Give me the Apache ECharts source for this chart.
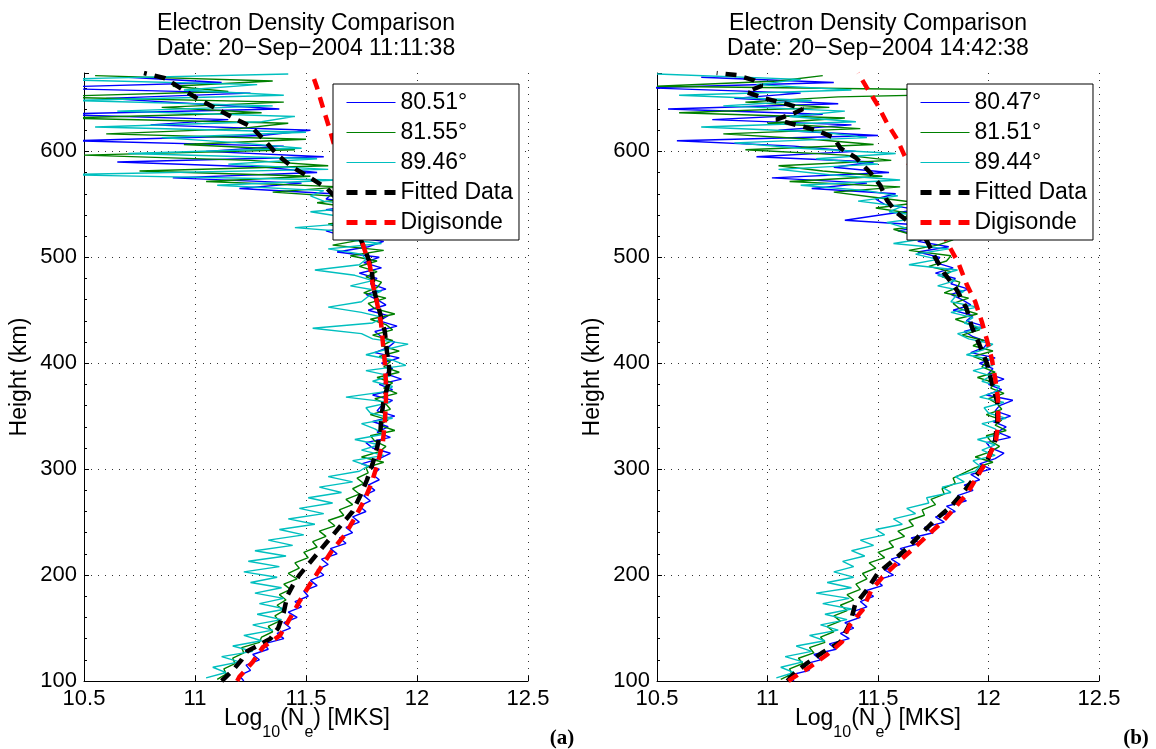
<!DOCTYPE html>
<html><head><meta charset="utf-8">
<script src="https://cdn.jsdelivr.net/npm/echarts/dist/echarts.min.js"></script>
<style>html,body{margin:0;padding:0;background:#fff}#c{width:1156px;height:749px}</style>
</head><body><div id="c"></div>
<script>
// ---------- DATA ----------
// range gates (km) of the three beams
const hBlue = [
100,105,110,115,120,125,130,135,140,145,150,155,160,165,170,175,180,185,190,195,
200,205,210,215,220,225,230,235,240,245,250,255,260,265,270,275,280,285,290,295,
300,305,310,315,320,325,330,335,340,345,350,355,360,365,370,375,380,385,390,395,
400,405,410,415,420,425,430,435,440,445,450,455,460,465,470,475,480,485,490,495,
500,505,510,515,520,525,530,535,540,545,550,555,560,565,570,575,580,585,590,595,
600,605,610,615,620,625,630,635,640,645,650,655,660,665,670];
const hGreen = [
101.5,106.5,111.5,116.5,121.5,126.5,131.5,136.5,141.5,146.5,151.5,156.5,161.5,166.5,171.5,176.5,181.5,186.5,191.5,196.5,
201.5,206.5,211.5,216.5,221.5,226.5,231.5,236.5,241.5,246.5,251.5,256.5,261.5,266.5,271.5,276.5,281.5,286.5,291.5,296.5,
301.5,306.5,311.5,316.5,321.5,326.5,331.5,336.5,341.5,346.5,351.5,356.5,361.5,366.5,371.5,376.5,381.5,386.5,391.5,396.5,
401.5,406.5,411.5,416.5,421.5,426.5,431.5,436.5,441.5,446.5,451.5,456.5,461.5,466.5,471.5,476.5,481.5,486.5,491.5,496.5,
501.5,506.5,511.5,516.5,521.5,526.5,531.5,536.5,541.5,546.5,551.5,556.5,561.5,566.5,571.5,576.5,581.5,586.5,591.5,596.5,
601.5,606.5,611.5,616.5,621.5,626.5,631.5,636.5,641.5,646.5,651.5,656.5,661.5,666.5,671.5];
const hCyan = [
103,108,113,118,123,128,133,138,143,148,153,158,163,168,173,178,183,188,193,198,
203,208,213,218,223,228,233,238,243,248,253,258,263,268,273,278,283,288,293,298,
303,308,313,318,323,328,333,338,343,348,353,358,363,368,373,378,383,388,393,398,
403,408,413,418,423,428,433,438,443,448,453,458,463,468,473,478,483,488,493,498,
503,508,513,518,523,528,533,538,543,548,553,558,563,568,573,578,583,588,593,598,
603,608,613,618,623,628,633,638,643,648,653,658,663,668,673];

// Panel (a): log10 Ne per beam
const blueA = [
11.22,11.20,11.25,11.23,11.29,11.26,11.33,11.31,11.40,11.37,11.43,11.40,11.46,11.42,11.48,11.45,11.51,11.49,11.55,11.52,
11.58,11.55,11.60,11.57,11.64,11.61,11.68,11.65,11.71,11.68,11.74,11.71,11.77,11.74,11.79,11.76,11.81,11.78,11.83,11.80,
11.83,11.75,11.83,11.88,11.80,11.77,11.88,11.82,11.87,11.80,11.90,11.82,11.84,11.89,11.80,11.89,11.83,11.93,11.86,11.89,
11.84,11.92,11.81,11.87,11.90,11.84,11.81,11.91,11.83,11.87,11.78,11.86,11.82,11.77,11.86,11.79,11.82,11.74,11.84,11.76,
11.83,11.64,11.78,11.85,11.67,11.59,11.80,11.67,11.74,11.59,11.78,11.59,11.62,11.20,11.48,10.90,11.55,11.32,10.65,11.58,
11.05,11.40,10.45,11.30,11.52,10.80,11.15,10.35,11.38,11.00,10.60,11.25,10.25,11.12,10.70];
const greenA = [
11.10,11.14,11.13,11.18,11.17,11.22,11.21,11.29,11.30,11.35,11.33,11.38,11.36,11.40,11.37,11.41,11.38,11.43,11.40,11.46,
11.42,11.47,11.45,11.51,11.49,11.55,11.53,11.59,11.56,11.63,11.60,11.67,11.65,11.71,11.68,11.74,11.71,11.76,11.73,11.78,
11.77,11.85,11.75,11.83,11.86,11.81,11.79,11.90,11.83,11.87,11.79,11.88,11.86,11.81,11.91,11.85,11.89,11.82,11.92,11.85,
11.88,11.83,11.92,11.84,11.89,11.80,11.89,11.86,11.79,11.90,11.81,11.78,11.86,11.76,11.82,11.84,11.77,11.82,11.74,11.82,
11.70,11.85,11.62,11.75,11.80,11.67,11.60,11.81,11.67,11.73,11.55,11.72,11.35,11.66,11.05,11.52,10.75,11.60,11.25,10.50,
11.45,10.95,11.50,10.60,11.20,11.42,10.40,11.30,10.85,11.40,10.30,11.15,10.90,11.35,10.55];
const cyanA = [
11.05,11.14,11.08,11.20,11.12,11.26,11.17,11.30,11.22,11.35,11.26,11.39,11.28,11.41,11.29,11.40,11.27,11.39,11.25,11.37,
11.22,11.38,11.24,11.41,11.27,11.44,11.33,11.49,11.38,11.54,11.42,11.58,11.47,11.62,11.51,11.66,11.56,11.71,11.60,11.74,
11.78,11.71,11.85,11.75,11.83,11.72,11.85,11.81,11.75,11.89,11.79,11.77,11.88,11.68,11.85,11.89,11.80,11.88,11.77,11.95,
11.89,11.77,11.86,11.96,11.80,11.75,11.53,11.80,11.85,11.75,11.60,11.75,11.78,11.84,11.70,11.80,11.72,11.54,11.74,11.77,
11.75,11.60,11.84,11.63,11.76,11.45,11.75,11.67,11.52,11.78,11.58,11.52,11.58,11.10,11.64,10.40,11.60,11.15,11.55,10.70,
11.48,11.20,10.85,11.50,10.55,11.30,11.45,10.65,11.35,10.45,11.40,10.95,11.28,10.35,11.42];
const fitAH = [100,110,120,128,134,140,150,165,180,190,200,215,230,245,260,275,290,305,320,335,350,365,380,395,410,430,450,470,490,505,520,540,555,565,575,585,597,610,623,632,641,650,659,669,674];
const fitAX = [11.12,11.17,11.21,11.235,11.29,11.34,11.375,11.40,11.415,11.44,11.47,11.53,11.59,11.65,11.71,11.745,11.775,11.80,11.82,11.835,11.84,11.85,11.87,11.875,11.865,11.855,11.83,11.805,11.795,11.77,11.74,11.69,11.64,11.595,11.52,11.44,11.37,11.315,11.255,11.17,11.09,11.01,10.94,10.865,10.77];
const digiAH = [100,104,118,132,143,160,176,192,208,224,238,254,272,288,307,325,344,363,382,401,420,438,457,475,492,516,540,560,580,600,620,641,660,674];
const digiAX = [11.19,11.20,11.26,11.306,11.383,11.43,11.473,11.52,11.57,11.62,11.675,11.72,11.766,11.797,11.825,11.846,11.855,11.86,11.86,11.855,11.846,11.838,11.82,11.80,11.788,11.75,11.72,11.69,11.66,11.635,11.608,11.577,11.55,11.527];

// Panel (b)
const blueB = [
11.12,11.09,11.19,11.15,11.24,11.21,11.31,11.28,11.37,11.33,11.39,11.35,11.42,11.38,11.45,11.42,11.48,11.44,11.52,11.49,
11.57,11.53,11.60,11.56,11.64,11.60,11.69,11.65,11.75,11.71,11.80,11.76,11.85,11.81,11.90,11.86,11.93,11.89,11.96,11.92,
12.01,11.96,12.03,12.07,12.01,11.99,12.10,12.04,12.08,12.02,12.10,12.03,12.05,12.11,11.99,12.06,12.00,12.07,12.00,12.02,
11.96,12.03,11.92,11.98,12.00,11.93,11.89,11.98,11.90,11.93,11.84,11.92,11.88,11.83,11.91,11.83,11.85,11.76,11.84,11.76,
11.78,11.68,11.82,11.68,11.75,11.59,11.73,11.35,11.51,11.68,11.53,11.49,11.58,11.20,11.45,11.02,11.55,11.30,11.48,10.95,
11.40,11.12,10.59,11.50,11.05,11.38,10.75,11.25,10.55,11.32,10.85,11.15,10.45,11.30,10.70];
const greenB = [
11.06,11.11,11.10,11.16,11.14,11.21,11.19,11.26,11.24,11.30,11.27,11.33,11.30,11.36,11.33,11.39,11.36,11.42,11.40,11.45,
11.43,11.49,11.46,11.53,11.50,11.57,11.55,11.62,11.59,11.66,11.64,11.71,11.70,11.76,11.74,11.80,11.79,11.85,11.84,11.89,
11.94,12.02,11.94,12.01,12.05,12.01,11.99,12.08,12.03,12.06,11.99,12.06,12.04,12.00,12.07,12.01,12.03,11.95,12.03,11.97,
11.99,11.93,12.02,11.93,11.98,11.88,11.96,11.92,11.85,11.95,11.87,11.84,11.91,11.80,11.86,11.87,11.79,11.83,11.73,11.81,
11.83,11.64,11.77,11.84,11.65,11.57,11.77,11.61,11.65,11.49,11.68,11.49,11.30,11.60,11.10,11.52,11.25,11.05,11.56,11.35,
10.90,11.48,11.20,10.80,11.42,11.00,11.35,10.60,11.28,10.90,11.32,12.47,10.50,11.05,11.25];
const cyanB = [
11.04,11.12,11.06,11.16,11.08,11.20,11.13,11.26,11.19,11.32,11.24,11.36,11.26,11.38,11.25,11.37,11.22,11.38,11.27,11.39,
11.30,11.39,11.34,11.44,11.38,11.48,11.42,11.53,11.49,11.61,11.57,11.67,11.63,11.73,11.72,11.83,11.79,11.89,11.85,11.94,
11.96,11.93,12.03,11.97,12.03,11.95,12.05,12.03,11.97,12.08,12.00,11.98,12.07,11.96,12.03,12.05,11.97,12.01,11.93,12.02,
12.02,11.90,11.98,12.02,11.91,11.86,11.97,11.89,11.93,11.83,11.95,11.83,11.85,11.89,11.77,11.85,11.77,11.86,11.64,11.77,
11.67,11.82,11.57,11.72,11.76,11.62,11.54,11.73,11.55,11.61,11.41,11.59,11.45,11.15,11.60,11.28,11.05,11.50,11.22,11.58,
11.15,10.85,11.45,11.25,10.70,11.40,11.10,11.35,10.80,11.20,10.60,11.38,10.95,11.15,10.50];
const fitBH = [100,106,117,127,137,155,172,186,202,214,225,240,252,264,278,294,308,327,346,363,381,400,417,434,452,469,485,500,516,535,542,554,568,580,594,603,613,620,625,630,636,640,644,650,656,662,667,672,674];
const fitBX = [11.09,11.115,11.18,11.25,11.33,11.375,11.396,11.45,11.50,11.57,11.63,11.70,11.758,11.826,11.885,11.945,11.995,12.03,12.04,12.04,12.016,11.993,11.96,11.925,11.90,11.857,11.80,11.758,11.72,11.63,11.585,11.54,11.51,11.465,11.40,11.33,11.30,11.22,11.13,11.04,11.12,11.16,11.10,10.99,10.905,10.975,10.94,10.86,10.77];
const digiBH = [100,103,113,125,137,153,167,186,198,212,225,238,250,264,278,294,310,327,346,367,386,403,422,439,458,475,494,509,520,540,560,580,596,612,627,645,660,674];
const digiBX = [11.095,11.115,11.19,11.27,11.337,11.373,11.43,11.47,11.52,11.59,11.66,11.727,11.79,11.85,11.907,11.952,11.998,12.034,12.045,12.043,12.03,12.016,11.993,11.97,11.94,11.90,11.865,11.826,11.80,11.755,11.71,11.66,11.62,11.585,11.54,11.495,11.45,11.41];

const namesA = ['80.51°','81.55°','89.46°'];
const namesB = ['80.47°','81.51°','89.44°'];
const titleTop = 'Electron Density Comparison';
const dateA = 'Date: 20\u2212Sep\u22122004 11:11:38';
const dateB = 'Date: 20\u2212Sep\u22122004 14:42:38';
const xTicks = [10.5, 11, 11.5, 12, 12.5];
const yTicks = [100, 200, 300, 400, 500, 600];

// ---------- CHART ----------
const F = '"Liberation Sans", Arial, Helvetica, sans-serif';
const chart = echarts.init(document.getElementById('c'), null, {renderer: 'canvas'});

function xAx(gi) {
  return {
    type: 'value', gridIndex: gi, min: xTicks[0], max: xTicks[xTicks.length - 1], interval: 0.5,
    axisLine: {show: true, onZero: false, lineStyle: {color: '#000', width: 1}},
    axisTick: {show: true, inside: true, length: 5, lineStyle: {color: '#000'}},
    axisLabel: {margin: 7, fontSize: 22, color: '#000', fontFamily: F},
    splitLine: {show: true, lineStyle: {type: [1, 6], color: '#333', width: 1}}
  };
}
function yAx(gi) {
  return {
    type: 'value', gridIndex: gi, min: yTicks[0], max: 674, interval: 100,
    axisLine: {show: true, onZero: false, lineStyle: {color: '#000', width: 1}},
    axisTick: {show: true, inside: true, length: 5, lineStyle: {color: '#000'}},
    minorTick: {show: true, splitNumber: 5, length: 3, lineStyle: {color: '#000'}},
    axisLabel: {margin: 7, fontSize: 22, color: '#000', fontFamily: F, showMaxLabel: false},
    splitLine: {show: true, showMaxLine: false, lineStyle: {type: [1, 6], color: '#333', width: 1}}
  };
}
function noisy(name, color, hs, xs, gi) {
  return {
    type: 'line', name: name, xAxisIndex: gi, yAxisIndex: gi,
    data: hs.map((h, i) => [xs[i], h]),
    symbol: 'none', showSymbol: false, clip: true,
    lineStyle: {color: color, width: 1.4}, itemStyle: {color: color},
    emphasis: {disabled: true}
  };
}
function thick(name, color, hs, xs, gi) {
  return {
    type: 'line', name: name, xAxisIndex: gi, yAxisIndex: gi,
    data: hs.map((h, i) => [xs[i], h]),
    symbol: 'none', showSymbol: false, clip: true,
    lineStyle: {color: color, width: 4.5, type: [11, 8], cap: 'butt'}, itemStyle: {color: color},
    emphasis: {disabled: true}
  };
}
const hideSym = {color: 'rgba(0,0,0,0)', borderColor: 'rgba(0,0,0,0)', borderWidth: 0, opacity: 0};
function legend(left, names) {
  return {
    orient: 'vertical', left: left, top: 84,
    data: [
      {name: names[0], lineStyle: {width: 1}, itemStyle: hideSym},
      {name: names[1], lineStyle: {width: 1}, itemStyle: hideSym},
      {name: names[2], lineStyle: {width: 1}, itemStyle: hideSym},
      {name: 'Fitted Data', lineStyle: {width: 5}, itemStyle: hideSym},
      {name: 'Digisonde', lineStyle: {width: 5}, itemStyle: hideSym}
    ],
    itemWidth: 49, itemHeight: 14, itemGap: 7,
    textStyle: {fontSize: 23, color: '#000', fontFamily: F},
    borderColor: '#000', borderWidth: 1, backgroundColor: '#fff',
    padding: [7, 6, 6, 11], selectedMode: false
  };
}
function txt(x, y, text, size, extra) {
  return Object.assign({
    type: 'text', x: x, y: y, z: 100,
    style: {text: text, fontSize: size, fontFamily: F, fill: '#000', align: 'center', verticalAlign: 'middle'}
  }, extra || {});
}
function xName(x) {
  return {
    type: 'text', x: x, y: 707, z: 100,
    style: {
      text: '{a|Log}{b|10}{a|(N}{b|e}{a|) [MKS]}', align: 'center', verticalAlign: 'top', fill: '#000',
      rich: {
        a: {fontSize: 23, fontFamily: F, lineHeight: 26, verticalAlign: 'top', fill: '#000'},
        b: {fontSize: 16, fontFamily: F, lineHeight: 16, padding: [18, 0, 0, 0], verticalAlign: 'top', fill: '#000'}
      }
    }
  };
}

const option = {
  animation: false,
  backgroundColor: '#fff',
  grid: [
    {left: 84, right: 628, top: 73, bottom: 68, containLabel: false},
    {left: 657, right: 57, top: 73, bottom: 68, containLabel: false}
  ],
  xAxis: [xAx(0), xAx(1)],
  yAxis: [yAx(0), yAx(1)],
  legend: [legend(333, namesA), legend(907, namesB)],
  series: [
    noisy(namesA[0], '#0000ff', hBlue, blueA, 0),
    noisy(namesA[1], '#008000', hGreen, greenA, 0),
    noisy(namesA[2], '#00bfbf', hCyan, cyanA, 0),
    thick('Fitted Data', '#000000', fitAH, fitAX, 0),
    thick('Digisonde', '#ff0000', digiAH, digiAX, 0),
    noisy(namesB[0], '#0000ff', hBlue, blueB, 1),
    noisy(namesB[1], '#008000', hGreen, greenB, 1),
    noisy(namesB[2], '#00bfbf', hCyan, cyanB, 1),
    thick('Fitted Data', '#000000', fitBH, fitBX, 1),
    thick('Digisonde', '#ff0000', digiBH, digiBX, 1)
  ],
  graphic: [
    txt(306, 23.5, titleTop, 23), txt(306, 48.5, dateA, 23),
    txt(878, 23.5, titleTop, 23), txt(878, 48.5, dateB, 23),
    txt(20, 377, 'Height (km)', 23, {rotation: Math.PI / 2}),
    txt(593, 377, 'Height (km)', 23, {rotation: Math.PI / 2}),
    xName(307), xName(878),
    {type: 'text', x: 562, y: 739, z: 100, style: {text: '(a)', fontSize: 21, fontWeight: 'bold', fontFamily: '"Liberation Serif", "Times New Roman", serif', fill: '#000', align: 'center', verticalAlign: 'middle'}},
    {type: 'text', x: 1136, y: 739, z: 100, style: {text: '(b)', fontSize: 21, fontWeight: 'bold', fontFamily: '"Liberation Serif", "Times New Roman", serif', fill: '#000', align: 'center', verticalAlign: 'middle'}}
  ]
};
chart.setOption(option);
</script>
</body></html>
